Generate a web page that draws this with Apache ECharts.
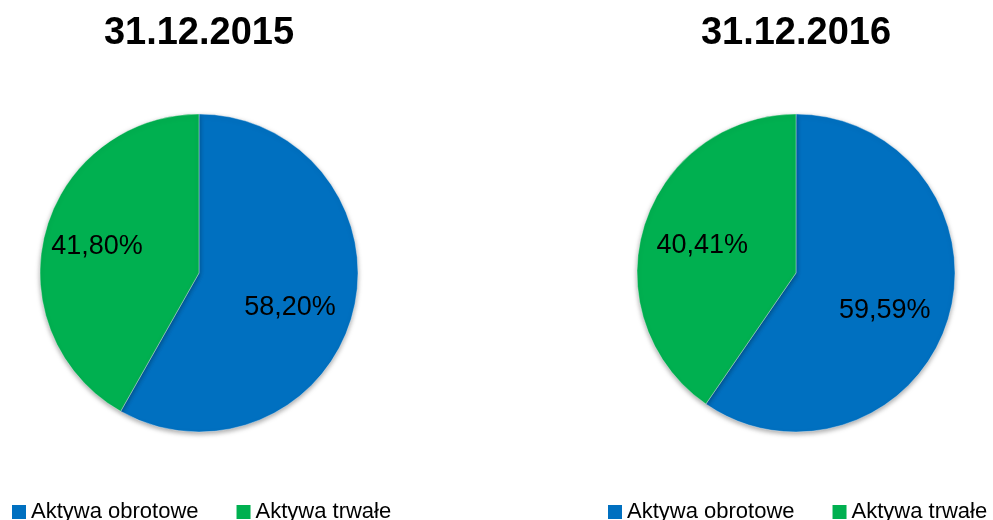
<!DOCTYPE html>
<html>
<head>
<meta charset="utf-8">
<script src="https://cdn.jsdelivr.net/npm/echarts@6/dist/echarts.min.js"></script>
<style>html,body{margin:0;padding:0;background:#fff}#c{width:993px;height:520px}</style>
</head>
<body>
<div id="c"></div>
<script>
const categories = ['Aktywa obrotowe', 'Aktywa trwałe'];
const titles = ['31.12.2015', '31.12.2016'];
const values2015 = [58.20, 41.80];
const values2016 = [59.59, 40.41];
const colors = ['#0070C0', '#00B050'];

const centers = [[199, 273], [796, 273]];
const labelNudge = [[[-8, 8], [-3, 0]], [[-9, 7], [4, 3]]];
const R = 159;
const font = 'Liberation Sans, Arial, sans-serif';

function fmt(v) { return v.toFixed(2).replace('.', ',') + '%'; }

function makeSeries(vals, idx) {
  const c = centers[idx];
  return {
    type: 'pie',
    center: c,
    radius: [0, R],
    startAngle: 90,
    clockwise: true,
    avoidLabelOverlap: false,
    silent: true,
    itemStyle: { borderColor: 'rgba(255,255,255,0.6)', borderWidth: 0.6, shadowBlur: 5, shadowColor: 'rgba(0,0,0,0.35)', shadowOffsetY: 2 },
    label: {
      show: true, position: 'inside', color: '#000', fontFamily: font, fontSize: 27,
      formatter: p => fmt(vals[p.dataIndex])
    },
    labelLayout: function (params) {
      const r = params.labelRect;
      const lx = r.x + r.width / 2, ly = r.y + r.height / 2;
      const k = 0.24;
      const n = labelNudge[idx][params.dataIndex];
      return { dx: (lx - c[0]) * k + n[0], dy: (ly - c[1]) * k + n[1] };
    },
    data: categories.map((n, i) => ({ name: n, value: vals[i] }))
  };
}

const chart = echarts.init(document.getElementById('c'));
const legendBase = {
  orient: 'horizontal', top: 501, itemWidth: 14, itemHeight: 14, itemGap: 38, padding: 0,
  icon: 'rect', data: categories, selectedMode: false,
  itemStyle: { borderWidth: 0, shadowBlur: 0, shadowOffsetY: 0, shadowColor: 'transparent' },
  textStyle: { fontFamily: font, fontSize: 22, color: '#000', padding: [0, 0, 0, 0] }
};
chart.setOption({
  animation: false,
  color: colors,
  title: titles.map((t, i) => ({
    text: t, left: centers[i][0], top: 15, textAlign: 'center', padding: 0,
    textStyle: { fontFamily: font, fontWeight: 'bold', fontSize: 38, color: '#000' }
  })),
  legend: [
    Object.assign({}, legendBase, { left: 12 }),
    Object.assign({}, legendBase, { left: 608 })
  ],
  series: [makeSeries(values2015, 0), makeSeries(values2016, 1)]
});
</script>
</body>
</html>
